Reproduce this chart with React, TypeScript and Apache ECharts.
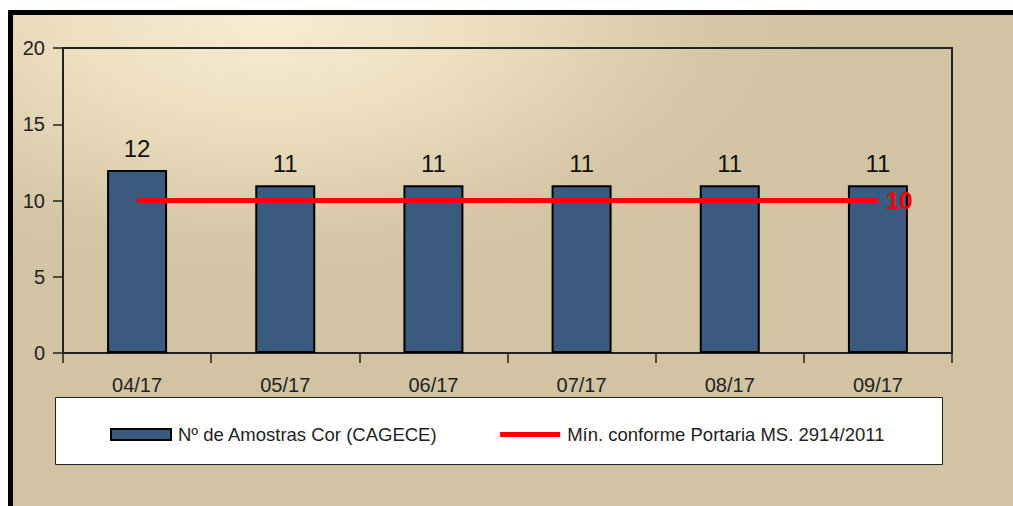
import React, { useEffect, useRef } from "react";
import * as echarts from "echarts";

const categories = ["04/17", "05/17", "06/17", "07/17", "08/17", "09/17"];
const amostras = [12, 11, 11, 11, 11, 11];
const minimo = [10, 10, 10, 10, 10, 10];
const seriesNames = ["Nº de Amostras Cor (CAGECE)", "Mín. conforme Portaria MS. 2914/2011"];
const yMin = 0;
const yMax = 20;
const yInterval = 5;

const FONT = "'Liberation Sans', Arial, sans-serif";

export default function App() {
  const ref = useRef<HTMLDivElement>(null);
  useEffect(() => {
    if (!ref.current) return;
    const chart = echarts.init(ref.current, undefined, { renderer: "svg" });
    chart.setOption({
      animation: false,
      backgroundColor: "#D2C4A2",
      textStyle: { fontFamily: FONT },
      graphic: [
        {
          type: "rect",
          z: -10,
          silent: true,
          shape: { x: 8, y: 10, width: 1005, height: 496 },
          style: {
            fill: {
              type: "radial",
              x: 0.26,
              y: 0.02,
              r: 0.56,
              colorStops: [
                { offset: 0, color: "#F8EBD2" },
                { offset: 0.35, color: "#EEDFC0" },
                { offset: 0.8, color: "#D5C7A5" },
                { offset: 1, color: "#D2C4A2" },
              ],
            },
          },
        },
        {
          type: "rect",
          z: -5,
          silent: true,
          shape: { x: 0, y: 0, width: 1013, height: 10 },
          style: { fill: "#ffffff" },
        },
        {
          type: "rect",
          z: -5,
          silent: true,
          shape: { x: 0, y: 0, width: 8, height: 506 },
          style: { fill: "#ffffff" },
        },
        {
          type: "rect",
          z: 0,
          silent: true,
          shape: { x: 55.5, y: 397.5, width: 887, height: 67 },
          style: { fill: "#ffffff", stroke: "#222222", lineWidth: 1 },
        },
        {
          type: "rect",
          z: 100,
          silent: true,
          shape: { x: 8, y: 10, width: 1005, height: 5 },
          style: { fill: "#000000" },
        },
        {
          type: "rect",
          z: 100,
          silent: true,
          shape: { x: 8, y: 10, width: 5, height: 496 },
          style: { fill: "#000000" },
        },
      ],
      legend: {
        left: 110,
        top: 425,
        padding: 0,
        itemWidth: 60,
        itemHeight: 11,
        itemGap: 60,
        textStyle: { fontFamily: FONT, fontSize: 18.5, color: "#222222", padding: [0, 0, 0, 2] },
        data: [
          { name: seriesNames[0], icon: "rect" },
          { name: seriesNames[1], itemStyle: { opacity: 0 }, lineStyle: { width: 5, color: "#FF0000" } },
        ],
      },
      grid: {
        left: 63,
        right: 61,
        top: 48,
        bottom: 153,
        show: true,
        borderColor: "#222222",
        borderWidth: 2,
        backgroundColor: "transparent",
      },
      xAxis: {
        type: "category",
        data: categories,
        boundaryGap: true,
        axisLine: { show: true, lineStyle: { color: "#222222", width: 2 } },
        axisTick: { show: true, length: 10, lineStyle: { color: "#222222", width: 1.5 } },
        axisLabel: { fontFamily: FONT, fontSize: 20, color: "#222222", margin: 22 },
      },
      yAxis: {
        type: "value",
        min: yMin,
        max: yMax,
        interval: yInterval,
        splitLine: { show: false },
        axisLine: { show: true, lineStyle: { color: "#222222", width: 2 } },
        axisTick: { show: true, length: 10, lineStyle: { color: "#222222", width: 1.5 } },
        axisLabel: { fontFamily: FONT, fontSize: 20, color: "#222222", margin: 18 },
      },
      series: [
        {
          name: seriesNames[0],
          type: "bar",
          data: amostras,
          barWidth: 60,
          itemStyle: { color: "#3B5A80", borderColor: "#000000", borderWidth: 2 },
          label: {
            show: true,
            position: "top",
            distance: 10,
            fontFamily: FONT,
            fontSize: 24,
            color: "#111111",
          },
          z: 2,
        },
        {
          name: seriesNames[1],
          type: "line",
          data: minimo,
          showSymbol: false,
          symbol: "none",
          lineStyle: { color: "#FF0000", width: 5 },
          itemStyle: { color: "#FF0000" },
          endLabel: {
            show: true,
            distance: 8,
            fontFamily: FONT,
            fontSize: 24,
            fontWeight: "bold",
            color: "#FF0000",
          },
          z: 3,
        },
      ],
    });
    return () => chart.dispose();
  }, []);
  return (
    <div
      ref={ref}
      style={{ position: "fixed", left: 0, top: 0, width: 1013, height: 506, overflow: "hidden" }}
    />
  );
}
